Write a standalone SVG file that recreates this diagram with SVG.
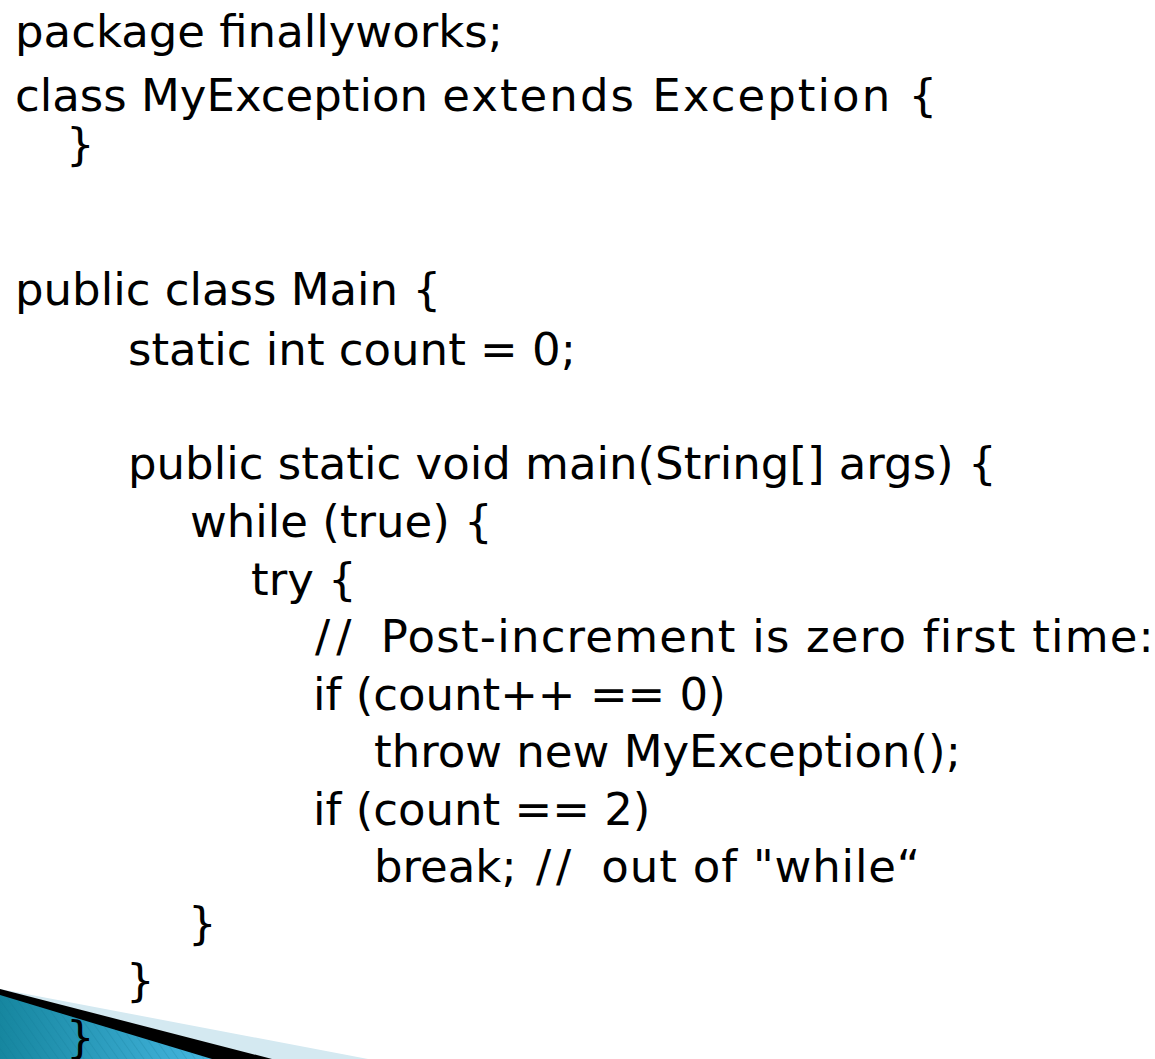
<svg xmlns="http://www.w3.org/2000/svg" width="1155" height="1059" viewBox="0 0 1155 1059">
<style>
.c{font-family:"DejaVu Sans","Liberation Sans",sans-serif;font-size:45px;fill:#000}
</style>
<defs>
<linearGradient id="teal" x1="0" y1="0" x2="1" y2="0">
<stop offset="0" stop-color="#16869f"/>
<stop offset="1" stop-color="#45b6e0"/>
</linearGradient>
<pattern id="hatch" width="7" height="7" patternUnits="userSpaceOnUse" patternTransform="rotate(-35)">
<rect width="7" height="7" fill="none"/>
<line x1="0" y1="0" x2="0" y2="7" stroke="#0f6f8c" stroke-opacity="0.35" stroke-width="1.2"/>
</pattern>
</defs>
<rect width="1155" height="1059" fill="#fff"/>
<g id="corner">
<polygon points="0,989 368,1059 0,1059" fill="#d4e9f1"/>
<polygon points="0,989 272,1059 0,1059" fill="#000"/>
<polygon points="0,995 212,1059 0,1059" fill="url(#teal)"/>
<polygon points="0,995 212,1059 0,1059" fill="url(#hatch)"/>
</g>
<g id="code">
<text class="c" x="15" y="47">package finallyworks;</text>
<text class="c" x="15" y="111">class MyException <tspan textLength="495" lengthAdjust="spacing">extends Exception {</tspan></text>
<text class="c" x="66" y="160">}</text>
<text class="c" x="15" y="305">public class Main {</text>
<text class="c" x="128" y="365">static int count = 0;</text>
<text class="c" x="128" y="479">public static void main(String[] args) {</text>
<text class="c" x="190" y="537">while (true) {</text>
<text class="c" x="251" y="595">try {</text>
<text class="c" x="315" y="652">/<tspan dx="6">/</tspan><tspan dx="14" letter-spacing="1.2"> Post-increment is zero first time:</tspan></text>
<text class="c" x="313" y="710">if (count++ == 0)</text>
<text class="c" x="374" y="767">throw new MyException();</text>
<text class="c" x="313" y="825">if (count == 2)</text>
<text class="c" x="374" y="882">break; <tspan dx="5">/</tspan><tspan dx="5">/</tspan><tspan dx="15" letter-spacing="0.85"> out of "while“</tspan></text>
<text class="c" x="188" y="939">}</text>
<text class="c" x="126" y="996">}</text>
<text class="c" x="66" y="1053">}</text>
</g>
</svg>
